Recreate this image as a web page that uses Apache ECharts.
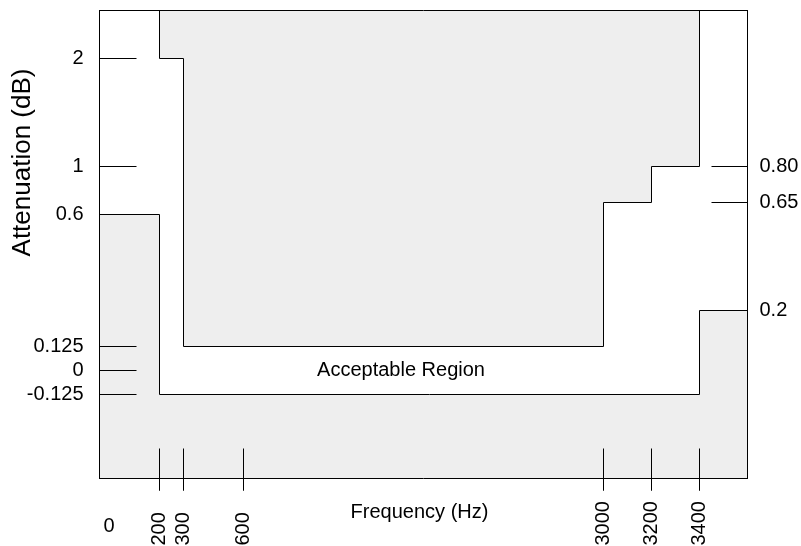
<!DOCTYPE html>
<html>
<head>
<meta charset="utf-8">
<script src="https://cdn.jsdelivr.net/npm/echarts@6/dist/echarts.min.js"></script>
<style>
  html, body { margin: 0; padding: 0; background: #fff; }
  #chart { width: 801px; height: 546px; }
</style>
</head>
<body>
<div id="chart"></div>
<script>
// Frequency ticks (Hz) along the bottom edge
const freqTicks = [200, 300, 600, 3000, 3200, 3400];
const freqOriginLabel = 0;

// Attenuation ticks (dB) on the left edge
const leftDbTicks = [2, 1, 0.6, 0.125, 0, -0.125];
const leftDbLabels = ['2', '1', '0.6', '0.125', '0', '-0.125'];

// Attenuation ticks (dB) on the right edge
const rightDbTicks = [0.80, 0.65, 0.2];
const rightDbLabels = ['0.80', '0.65', '0.2'];

// Upper limit mask: band edges (Hz) and attenuation of each band (dB)
const upperEdges = [200, 300, 3000, 3200, 3400];
const upperDb = [2, 0.125, 0.65, 0.80];
const upperScale = ['left', 'left', 'right', 'right'];

// Lower limit mask: band edges (Hz) and attenuation of each band (dB)
const lowerEdges = [0, 200, 3400, 3600];
const lowerDb = [0.6, -0.125, 0.2];
const lowerScale = ['left', 'left', 'right'];

// Annotation inside the pass band (Hz, dB)
const regionLabel = 'Acceptable Region';
const regionLabelAt = [1650, 0];

// ---- schematic (piecewise) scales: value -> axis units ----
const hzBreaks = [0, 200, 300, 600, 3000, 3200, 3400, 3600];
const hzUnits = [0, 5, 7, 12, 42, 46, 50, 54];
const leftBreaks = [-0.125, 0, 0.125, 0.6, 1, 2];
const leftUnits = [7, 9, 11, 22, 26, 35];
const rightBreaks = [0.2, 0.8];
const rightUnits = [14, 26];
const X_MAX = 54;
const Y_MAX = 39;

function piecewise(breaks, units) {
  return function (v) {
    let i = 0;
    while (i < breaks.length - 2 && v > breaks[i + 1]) i++;
    const t = (v - breaks[i]) / (breaks[i + 1] - breaks[i]);
    return units[i] + t * (units[i + 1] - units[i]);
  };
}
const xOf = piecewise(hzBreaks, hzUnits);
const yScales = { left: piecewise(leftBreaks, leftUnits), right: piecewise(rightBreaks, rightUnits) };

const round = v => Math.round(v * 1000) / 1000;

// step outline of the upper mask, open to the top
const upperLine = [[xOf(upperEdges[0]), Y_MAX]];
upperDb.forEach((db, i) => {
  const y = yScales[upperScale[i]](db);
  upperLine.push([xOf(upperEdges[i]), y], [xOf(upperEdges[i + 1]), y]);
});
upperLine.push([xOf(upperEdges[upperEdges.length - 1]), Y_MAX]);

// step outline of the lower mask, open to the bottom
const lowerLine = [];
lowerDb.forEach((db, i) => {
  const y = yScales[lowerScale[i]](db);
  lowerLine.push([xOf(lowerEdges[i]), y], [xOf(lowerEdges[i + 1]), y]);
});

const xTickUnits = freqTicks.map(xOf);
const leftTickUnits = leftDbTicks.map(yScales.left);
const rightTickUnits = rightDbTicks.map(yScales.right);

function lookup(units, labels) {
  const map = {};
  units.forEach((u, i) => { map[round(u)] = labels[i]; });
  return v => (map[round(v)] !== undefined ? map[round(v)] : '');
}

const FONT = '"Liberation Sans", Arial, Helvetica, sans-serif';
const BLACK = '#000';
const textBase = { fontFamily: FONT, fontSize: 20, color: BLACK };
const lineBase = { show: true, onZero: false, lineStyle: { color: BLACK, width: 1 } };
const TICK_OUT = 12;

const chart = echarts.init(document.getElementById('chart'), null, { renderer: 'canvas' });

chart.setOption({
  animation: false,
  backgroundColor: '#fff',
  grid: {
    left: 99.5, top: 10.5, right: 53.5, bottom: 67.5,
    show: false, containLabel: false, outerBoundsMode: 'none'
  },
  xAxis: [
    {
      type: 'value', position: 'bottom', min: 0, max: X_MAX, z: 10,
      axisLine: lineBase,
      axisTick: { show: true, inside: true, length: 30, customValues: xTickUnits, lineStyle: { color: BLACK } },
      axisLabel: {
        show: true, customValues: xTickUnits, rotate: 90, align: 'left', margin: 67,
        hideOverlap: false,
        formatter: lookup(xTickUnits, freqTicks.map(String)), ...textBase
      },
      splitLine: { show: false },
      name: 'Frequency (Hz)', nameLocation: 'middle', nameGap: 24, nameMoveOverlap: false,
      nameTextStyle: { ...textBase, padding: [0, 8, 0, 0] }
    },
    {
      // short continuation of the frequency ticks below the bottom edge
      type: 'value', position: 'bottom', offset: TICK_OUT, min: 0, max: X_MAX, z: 11,
      axisLine: { show: false, onZero: false },
      axisTick: { show: true, inside: true, length: TICK_OUT, customValues: xTickUnits, lineStyle: { color: BLACK } },
      axisLabel: { show: false },
      splitLine: { show: false }
    },
    {
      type: 'value', position: 'top', min: 0, max: X_MAX, z: 10,
      axisLine: lineBase,
      axisTick: { show: false }, axisLabel: { show: false }, splitLine: { show: false }
    },
    {
      type: 'value', position: 'bottom', min: 0, max: X_MAX, z: 11,
      axisLine: { show: false, onZero: false },
      axisTick: { show: false },
      axisLabel: {
        show: true, customValues: [xOf(freqOriginLabel)], align: 'left', margin: 38,
        padding: [0, 0, 0, 4],
        formatter: () => String(freqOriginLabel), ...textBase
      },
      splitLine: { show: false }
    }
  ],
  yAxis: [
    {
      type: 'value', position: 'left', min: 0, max: Y_MAX, z: 10,
      axisLine: lineBase,
      axisTick: { show: true, inside: true, length: 37, customValues: leftTickUnits, lineStyle: { color: BLACK } },
      axisLabel: {
        show: true, customValues: leftTickUnits, margin: 16,
        formatter: lookup(leftTickUnits, leftDbLabels), ...textBase
      },
      splitLine: { show: false }
    },
    {
      type: 'value', position: 'right', min: 0, max: Y_MAX, z: 10,
      axisLine: lineBase,
      axisTick: { show: true, inside: true, length: 36, customValues: rightTickUnits, lineStyle: { color: BLACK } },
      axisLabel: {
        show: true, customValues: rightTickUnits, margin: 12,
        formatter: lookup(rightTickUnits, rightDbLabels), ...textBase
      },
      splitLine: { show: false }
    }
  ],
  graphic: [
    {
      id: 'yname', type: 'text', x: 23, y: 162.5, rotation: Math.PI / 2, z: 20,
      style: {
        text: 'Attenuation (dB)', fill: BLACK,
        font: '26px ' + FONT, align: 'center', verticalAlign: 'middle'
      }
    }
  ],
  series: [
    {
      type: 'line', name: 'upper mask', data: upperLine,
      xAxisIndex: 0, yAxisIndex: 0, symbol: 'none', silent: true,
      lineStyle: { color: BLACK, width: 1 },
      areaStyle: { color: '#eeeeee', opacity: 1, origin: 'end' },
      z: 2
    },
    {
      type: 'line', name: 'lower mask', data: lowerLine,
      xAxisIndex: 0, yAxisIndex: 0, symbol: 'none', silent: true,
      lineStyle: { color: BLACK, width: 1 },
      areaStyle: { color: '#eeeeee', opacity: 1, origin: 'start' },
      z: 2
    },
    {
      type: 'scatter', xAxisIndex: 0, yAxisIndex: 0, silent: true,
      data: [[xOf(regionLabelAt[0]), yScales.left(regionLabelAt[1])]],
      symbolSize: 0, itemStyle: { opacity: 1 },
      label: { show: true, position: 'inside', formatter: regionLabel, ...textBase },
      z: 3
    }
  ]
});

// same tick continuation drawn from the axis scale as plain line elements
try {
  const yBottom = chart.convertToPixel({ yAxisIndex: 0 }, 0);
  const outTicks = [];
  xTickUnits.forEach((u, i) => {
    const px = chart.convertToPixel({ xAxisIndex: 0 }, u);
    if (isFinite(px) && isFinite(yBottom)) {
      outTicks.push({
        id: 'tickOut' + i, type: 'line', z: 20, silent: true,
        shape: { x1: px, y1: yBottom, x2: px, y2: yBottom + TICK_OUT },
        style: { stroke: BLACK, lineWidth: 1 }
      });
    }
  });
  if (outTicks.length) chart.setOption({ graphic: outTicks });
} catch (e) { /* axis ticks above already cover this */ }
</script>
</body>
</html>
